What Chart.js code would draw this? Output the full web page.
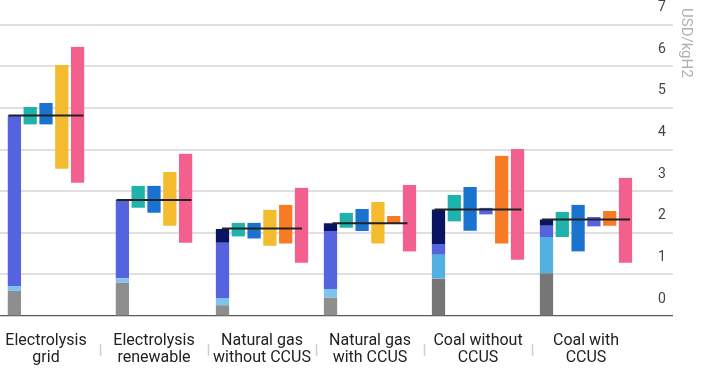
<!DOCTYPE html>
<html>
<head>
<meta charset="utf-8">
<script src="https://cdn.jsdelivr.net/npm/chart.js@4"></script>
<style>
  body { margin: 0; background: #fff; overflow: hidden; }
  #outer { width: 701px; height: 368px; overflow: hidden; position: relative; }
  #wrap { width: 709px; height: 368px; position: absolute; left: -8px; top: 0; }
</style>
</head>
<body>
<div id="outer"><div id="wrap"><canvas id="mychart"></canvas></div></div>
<script>
// categories
const categories = [
    ['Electrolysis', 'grid'],
    ['Electrolysis', 'renewable'],
    ['Natural gas', 'without CCUS'],
    ['Natural gas', 'with CCUS'],
    ['Coal without', 'CCUS'],
    ['Coal with', 'CCUS']
];

// base cost, stacked (USD/kgH2)
const capex = [0.60, 0.80, 0.26, 0.44, 0.90, 1.03];
const opex = [0.12, 0.10, 0.17, 0.21, 0.57, 0.87];
const fuel = [4.10, 1.89, 1.33, 1.39, 0.26, 0.27];
const co2 = [null, null, 0.33, 0.19, 0.83, 0.15];
const totals = [4.82, 2.79, 2.10, 2.23, 2.56, 2.32];

// ranges [low, high]
const rangeTeal = [[4.60, 5.02], [2.60, 3.13], [1.91, 2.24], [2.12, 2.48], [2.27, 2.91], [1.90, 2.50]];
const rangeBlue = [[4.60, 5.12], [2.48, 3.13], [1.86, 2.24], [2.04, 2.57], [2.05, 3.10], [1.55, 2.67]];
const rangeYellow = [[3.54, 6.03], [2.17, 3.46], [1.69, 2.55], [1.74, 2.74], null, null];
const rangeIndigo = [null, null, null, null, [2.44, 2.60], [2.15, 2.38]];
const rangeOrange = [null, null, [1.74, 2.67], [2.23, 2.40], [1.74, 3.85], [2.17, 2.52]];
const rangePink = [[3.20, 6.47], [1.76, 3.90], [1.28, 3.08], [1.55, 3.15], [1.35, 4.01], [1.28, 3.32]];

const yTicks = [0, 1, 2, 3, 4, 5, 6, 7];

const gap = { left: 1.6, right: 1.6, top: 0, bottom: 0 };
const barStyle = (color) => ({
    backgroundColor: color,
    borderColor: 'rgba(0,0,0,0)',
    borderWidth: gap,
    borderSkipped: false,
    order: 1
});

const ctx = document.getElementById('mychart').getContext('2d');
let myChart = new Chart(ctx, {
    type: 'bar',
    data: {
        labels: categories,
        datasets: [
            {
                type: 'line',
                label: 'Total',
                data: totals,
                showLine: false,
                pointStyle: 'line',
                pointRadius: [37.5, 37.5, 40, 37.5, 43.5, 44],
                pointBorderWidth: 2,
                pointBorderColor: '#222',
                pointBackgroundColor: '#222',
                order: 0
            },
            { label: 'Capex', data: capex, stack: 'base', ...barStyle(['#8e8e8e', '#8e8e8e', '#8e8e8e', '#8e8e8e', '#767676', '#767676']) },
            { label: 'Opex', data: opex, stack: 'base', ...barStyle(['#80c4ec', '#80c4ec', '#80c4ec', '#80c4ec', '#52b1e0', '#52b1e0']) },
            { label: 'Fuel', data: fuel, stack: 'base', ...barStyle('#5563de') },
            { label: 'CO2', data: co2, stack: 'base', ...barStyle('#0b1462') },
            { label: 'Range 1', data: rangeTeal, stack: 'r1', ...barStyle('#1fb3ae') },
            { label: 'Range 2', data: rangeBlue, stack: 'r2', ...barStyle('#1a74cf') },
            { label: 'Range 3', data: rangeYellow, stack: 'r3', ...barStyle('#f5bb2e') },
            { label: 'Range 4', data: rangeIndigo, stack: 'r4', ...barStyle('#5563de') },
            { label: 'Range 5', data: rangeOrange, stack: 'r5', ...barStyle('#f97a25') },
            { label: 'Range 6', data: rangePink, stack: 'r6', ...barStyle('#f4608d') }
        ]
    },
    options: {
        responsive: true,
        maintainAspectRatio: false,
        animation: false,
        skipNull: true,
        barThickness: 15.8,
        layout: { autoPadding: false, padding: { top: 8, left: 0, right: 0, bottom: 0 } },
        plugins: {
            legend: { display: false },
            tooltip: { enabled: false }
        },
        scales: {
            x: {
                afterFit: (s) => { s.height = 52; },
                border: { display: false },
                grid: {
                    drawOnChartArea: false,
                    drawTicks: true,
                    tickLength: 40,
                    tickBorderDash: [0, 28, 12, 100],
                    tickColor: (c) => (c.type === 'tick' && c.index > 0) ? '#cfcfcf' : 'rgba(0,0,0,0)',
                    tickWidth: 1.5
                },
                ticks: {
                    autoSkip: false,
                    maxRotation: 0,
                    padding: -23,
                    color: '#222',
                    font: { family: 'Roboto', size: 16, lineHeight: 1.05 }
                }
            },
            y: {
                position: 'right',
                min: 0,
                max: 7.4,
                afterFit: (s) => { s.width = 61; },
                afterBuildTicks: (s) => { s.ticks = yTicks.map(v => ({ value: v })); },
                border: { display: false },
                grid: {
                    tickLength: 33,
                    color: (c) => c.tick && c.tick.value === 0 ? '#5a5a5a' : '#e0e0e0',
                    lineWidth: (c) => c.tick && c.tick.value === 0 ? 1.2 : 2
                },
                ticks: {
                    padding: -15,
                    labelOffset: -17,
                    color: '#444',
                    font: { family: 'Roboto', size: 14 }
                },
                title: {
                    display: true,
                    text: 'USD/kgH2',
                    align: 'end',
                    color: '#b0b0b0',
                    padding: { top: 6, bottom: 0 },
                    font: { family: 'Roboto', size: 15, lineHeight: 1.2 }
                }
            }
        }
    }
});
</script>
</body>
</html>
